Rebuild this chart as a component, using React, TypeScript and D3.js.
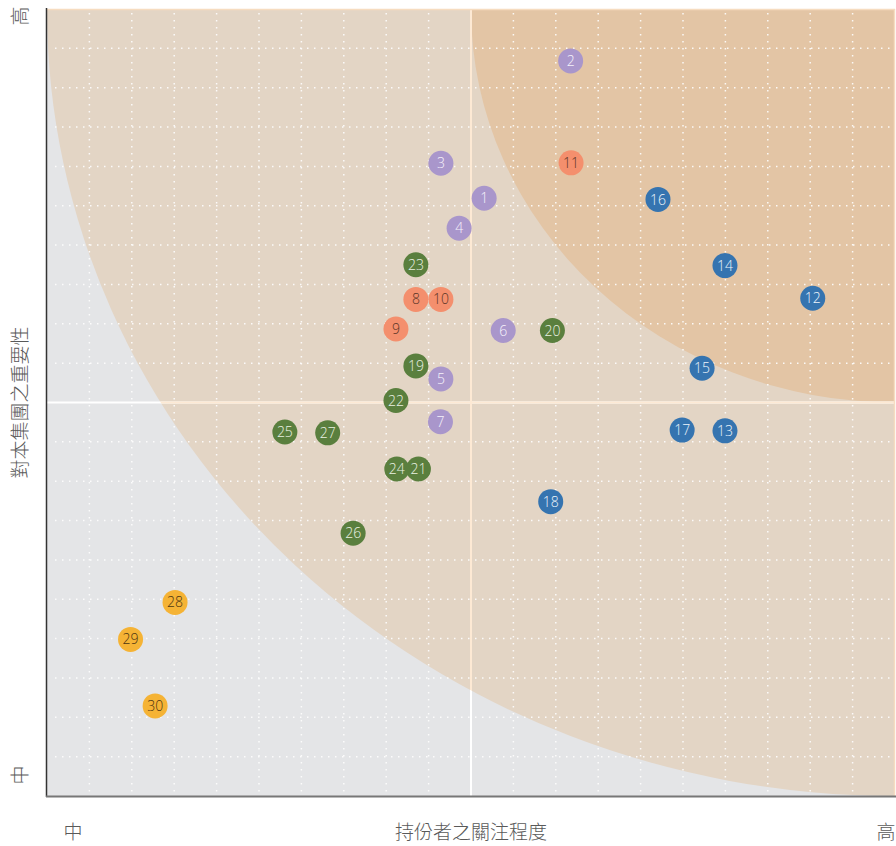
import * as d3 from 'd3';

// 議題編號、持份者關注程度 (x)、對本集團之重要性 (y)、分組
const issueIds = [1, 2, 3, 4, 5, 6, 7, 8, 9, 10, 11, 12, 13, 14, 15, 16, 17, 18, 19, 20, 21, 22, 23, 24, 25, 26, 27, 28, 29, 30];
const concern = [10.31, 12.35, 9.29, 9.72, 9.29, 10.76, 9.28, 8.7, 8.23, 9.29, 12.36, 18.06, 15.99, 15.99, 15.45, 14.41, 14.98, 11.88, 8.7, 11.92, 8.76, 8.23, 8.7, 8.25, 5.61, 7.22, 6.62, 3.02, 1.97, 2.55];
const importance = [15.19, 18.68, 16.08, 14.43, 10.6, 11.83, 9.51, 12.62, 11.87, 12.62, 16.09, 12.65, 9.28, 13.48, 10.87, 15.16, 9.3, 7.48, 10.93, 11.83, 8.31, 10.05, 13.5, 8.31, 9.25, 6.68, 9.23, 4.92, 3.98, 2.29];
const groups = ['p', 'p', 'p', 'p', 'p', 'p', 'p', 's', 's', 's', 's', 'b', 'b', 'b', 'b', 'b', 'b', 'b', 'g', 'g', 'g', 'g', 'g', 'g', 'g', 'g', 'g', 'y', 'y', 'y'];

const groupFill: Record<string, string> = { p: '#a996cb', s: '#f48f6d', b: '#3574b0', g: '#5a7f3e', y: '#f5b335' };
const groupText: Record<string, string> = { p: '#f6f2fb', s: '#5a3527', b: '#eef4fb', g: '#eaf1e2', y: '#4d3612' };

const xLabels = ['中', '持份者之關注程度', '高'];
const yLabels = ['中', '對本集團之重要性', '高'];

const W = 896;
const H = 846;
const left = 47;
const right = 895;
const top = 9;
const bottom = 796;

const App = () => {
  const x = d3.scaleLinear().domain([0, 20]).range([left, right]);
  const y = d3.scaleLinear().domain([0, 20]).range([bottom, top]);
  const ticks = d3.range(1, 20);
  const pw = right - left;
  const ph = bottom - top;
  const axisFont = '"Noto Sans CJK TC", "Noto Sans", sans-serif';

  return (
    <svg width={W} height={H} style={{ display: 'block', position: 'absolute', left: 0, top: 0 }}>
      <defs>
        <clipPath id="plot">
          <rect x={left} y={top} width={pw} height={ph} />
        </clipPath>
        <clipPath id="big">
          <ellipse cx={x(20)} cy={y(20)} rx={pw} ry={ph} />
        </clipPath>
      </defs>

      <rect x={left} y={top} width={pw} height={ph} fill="#e4e5e7" />

      <g clipPath="url(#plot)">
        <ellipse cx={x(20)} cy={y(20)} rx={pw} ry={ph} fill="#e3d5c5" />
        <ellipse cx={x(20)} cy={y(20)} rx={pw / 2} ry={ph / 2} fill="#e3c5a5" />
      </g>

      {/* 中線 */}
      <g>
        <line x1={x(10)} x2={x(10)} y1={top} y2={bottom} stroke="#ffffff" strokeWidth={2} />
        <line x1={left} x2={right} y1={y(10)} y2={y(10)} stroke="#ffffff" strokeWidth={2} />
      </g>
      <g clipPath="url(#big)">
        <line x1={x(10)} x2={x(10)} y1={top} y2={bottom} stroke="#fde9d4" strokeWidth={2} />
        <line x1={left} x2={right} y1={y(10)} y2={y(10)} stroke="#fde9d4" strokeWidth={2} />
      </g>

      {/* 網格 */}
      <g stroke="#ffffff" strokeWidth={1.5} strokeDasharray="1.5 5.5" opacity={0.9}>
        {ticks.filter(t => t !== 10).map(t => (
          <line key={'v' + t} x1={x(t)} x2={x(t)} y1={top + 4} y2={bottom} />
        ))}
        {ticks.filter(t => t !== 10).map(t => (
          <line key={'h' + t} x1={left + 8} x2={right} y1={y(t)} y2={y(t)} />
        ))}
      </g>

      <line x1={left} x2={right} y1={top + 0.5} y2={top + 0.5} stroke="#f6dcc0" strokeWidth={1.5} />
      <line x1={right - 0.5} x2={right - 0.5} y1={top} y2={bottom} stroke="#f6dcc0" strokeWidth={1.5} />

      {/* 軸 */}
      <line x1={left - 0.5} x2={left - 0.5} y1={top - 1} y2={bottom + 1} stroke="#333333" strokeWidth={1.5} />
      <line x1={left - 1} x2={right + 1} y1={bottom + 0.5} y2={bottom + 0.5} stroke="#777777" strokeWidth={2} />

      {/* 點 */}
      {issueIds.map((id, i) => (
        <g key={id} transform={`translate(${x(concern[i])},${y(importance[i])})`}>
          <circle r={12.5} fill={groupFill[groups[i]]} />
          <text
            textAnchor="middle"
            dy="0.36em"
            fontSize={14}
            fontWeight={300}
            fontFamily='"Open Sans", "Noto Sans", sans-serif'
            fill={groupText[groups[i]]}
          >
            {id}
          </text>
        </g>
      ))}

      {/* 軸標籤 */}
      <g fontFamily={axisFont} fontSize={19} fontWeight={300} fill="#595959">
        <text x={73} y={839} textAnchor="middle">{xLabels[0]}</text>
        <text x={x(10)} y={839} textAnchor="middle">{xLabels[1]}</text>
        <text x={886} y={839} textAnchor="middle">{xLabels[2]}</text>
        <text transform={`translate(27,775) rotate(-90)`} textAnchor="middle">{yLabels[0]}</text>
        <text transform={`translate(27,${y(10)}) rotate(-90)`} textAnchor="middle">{yLabels[1]}</text>
        <text transform={`translate(27,16) rotate(-90)`} textAnchor="middle">{yLabels[2]}</text>
      </g>
    </svg>
  );
};

export default App;
